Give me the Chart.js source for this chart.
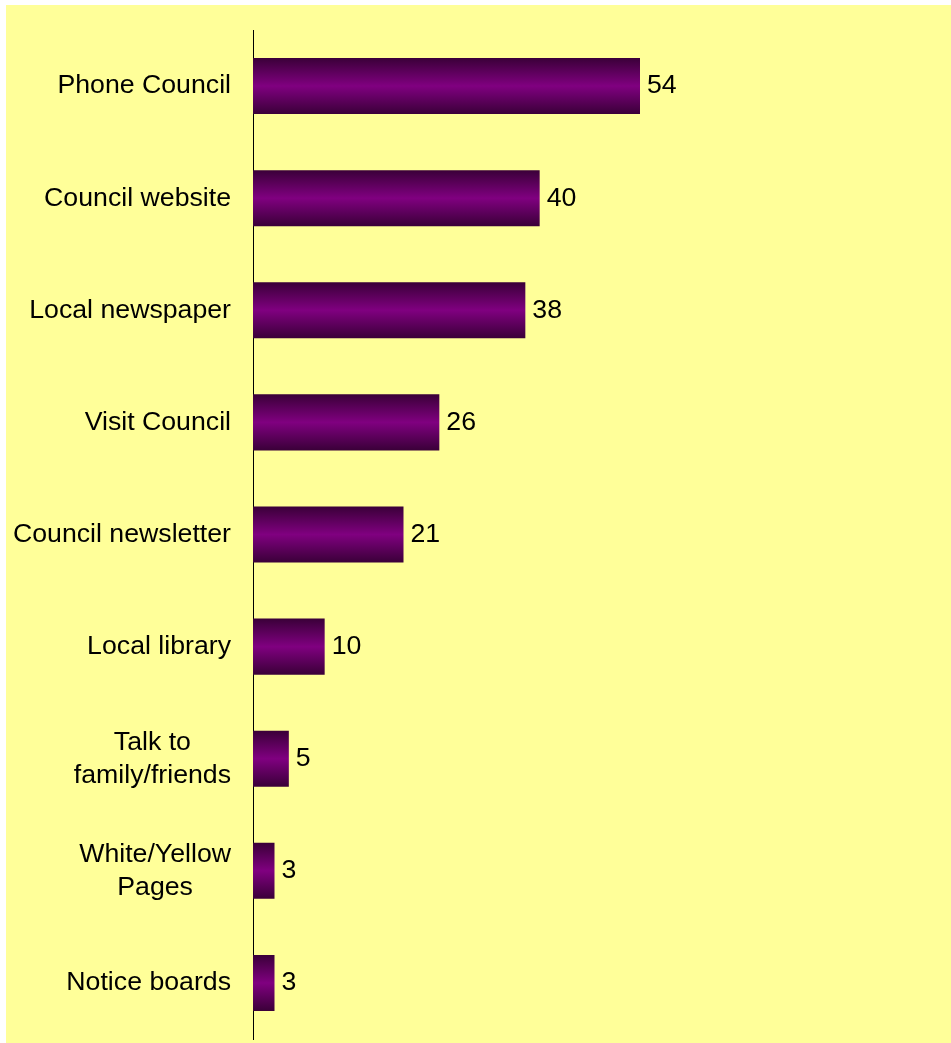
<!DOCTYPE html>
<html>
<head>
<meta charset="utf-8">
<script src="https://cdn.jsdelivr.net/npm/chart.js@4/dist/chart.umd.min.js"></script>
<style>
  html, body { margin: 0; padding: 0; background: #ffffff; }
  #wrap { width: 951px; height: 1043px; }
</style>
</head>
<body>
<div id="wrap"><canvas id="chart" width="951" height="1043"></canvas></div>
<script>
// Ways residents get information about the Council
const categories = [
  ['Phone Council'],
  ['Council website'],
  ['Local newspaper'],
  ['Visit Council'],
  ['Council newsletter'],
  ['Local library'],
  ['Talk to', 'family/friends'],
  ['White/Yellow', 'Pages'],
  ['Notice boards']
];
const values = [54, 40, 38, 26, 21, 10, 5, 3, 3];
const axisMin = 0;
const axisMax = 90;

const FONT = '26.7px "Liberation Sans", Arial, sans-serif';
const LINE_H = 33;
const BAR_PCT = 0.5;
const LABEL_GAP = 22;

// Pale yellow panel behind the plot
const panelPlugin = {
  id: 'panel',
  beforeDraw(chart) {
    const ctx = chart.ctx;
    ctx.save();
    ctx.fillStyle = '#FFFF99';
    ctx.fillRect(6, 5, chart.width - 6, chart.height - 5);
    ctx.restore();
  }
};

// Category names to the left of the axis, values after each bar
const labelPlugin = {
  id: 'labels',
  afterDatasetsDraw(chart) {
    const ctx = chart.ctx;
    const ys = chart.scales.y;
    const rightEdge = chart.chartArea.left - LABEL_GAP;
    ctx.save();
    ctx.font = FONT;
    ctx.fillStyle = '#000000';
    ctx.textBaseline = 'middle';
    categories.forEach((lines, i) => {
      const cy = ys.getPixelForValue(i);
      const widest = Math.max(...lines.map(l => ctx.measureText(l).width));
      const cx = rightEdge - widest / 2;
      ctx.textAlign = 'center';
      const top = cy - (lines.length - 1) * LINE_H / 2;
      lines.forEach((l, k) => ctx.fillText(l, cx, top + k * LINE_H));
    });
    const meta = chart.getDatasetMeta(0);
    ctx.textAlign = 'left';
    meta.data.forEach((bar, i) => {
      ctx.fillText(String(values[i]), bar.x + 7, bar.y);
    });
    ctx.restore();
  }
};

function barFill(c) {
  const chart = c.chart;
  const ys = chart.scales && chart.scales.y;
  if (!chart.chartArea || !ys || c.dataIndex == null) return '#800080';
  const cy = ys.getPixelForValue(c.dataIndex);
  const half = ys.height / categories.length * BAR_PCT / 2;
  const g = chart.ctx.createLinearGradient(0, cy - half, 0, cy + half);
  g.addColorStop(0, '#3a0038');
  g.addColorStop(0.5, '#800080');
  g.addColorStop(1, '#3a0038');
  return g;
}

new Chart(document.getElementById('chart'), {
  type: 'bar',
  data: {
    labels: categories.map(l => l.join(' ')),
    datasets: [{
      data: values,
      backgroundColor: barFill,
      borderWidth: 0,
      categoryPercentage: 1,
      barPercentage: BAR_PCT
    }]
  },
  options: {
    indexAxis: 'y',
    responsive: false,
    animation: false,
    events: [],
    layout: { padding: { left: 253, top: 30, right: 53, bottom: 4 } },
    plugins: { legend: { display: false }, tooltip: { enabled: false } },
    scales: {
      x: { display: false, min: axisMin, max: axisMax },
      y: {
        display: true,
        ticks: { display: false },
        grid: { display: false, drawTicks: false },
        border: { display: true, color: '#000000', width: 1 }
      }
    }
  },
  plugins: [panelPlugin, labelPlugin]
});
</script>
</body>
</html>
